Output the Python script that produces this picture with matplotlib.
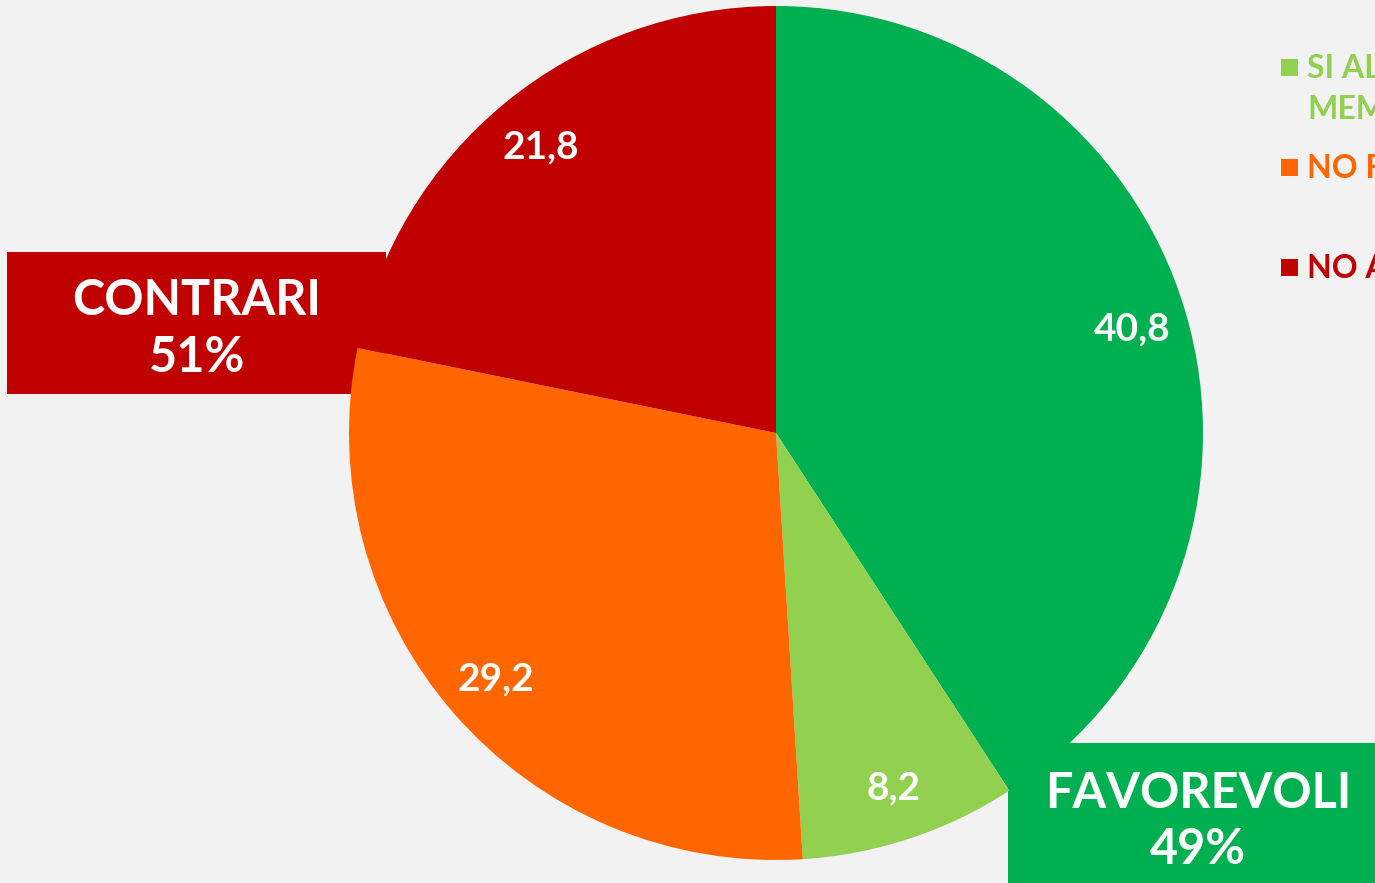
import matplotlib
matplotlib.use("Agg")
import matplotlib.pyplot as plt
from matplotlib.patches import Rectangle
import numpy as np

# ---- data ----
values = [40.8, 8.2, 29.2, 21.8]
value_labels = ["40,8", "8,2", "29,2", "21,8"]
colors = ["#00B050", "#92D050", "#FF6600", "#C00000"]
legend_labels = ["SI ALLA LEGGE\nMEMBRI", "NO FAVOREVOLI", "NO ASSOLUTAMENTE"]
legend_colors = ["#92D050", "#FF6600", "#C00000"]
group_labels = ["CONTRARI\n51%", "FAVOREVOLI\n49%"]
group_colors = ["#C00000", "#00B050"]

W, H = 1375, 883
fig = plt.figure(figsize=(W / 100, H / 100), dpi=100)
fig.patch.set_facecolor("#F2F2F2")
ax = fig.add_axes([0, 0, 1, 1])

FONT = "Lato"

cx, cy, r = 776, 433, 427
# y axis is inverted below, so start at -90 and go counter-clockwise in data space
wedges, _ = ax.pie(values, colors=colors, startangle=-90, counterclock=True,
                   center=(cx, cy), radius=r, frame=True,
                   wedgeprops=dict(linewidth=0))
for wdg in wedges:
    wdg.set_zorder(2)
ax.set_xlim(0, W)
ax.set_ylim(H, 0)
ax.set_aspect("equal")
ax.axis("off")

# group boxes (behind the pie)
boxes = [(7, 252, 379, 142), (1008, 743, 370, 145)]
text_x = [197, 1198]
for (x, y, w, h), tx, lab, col in zip(boxes, text_x, group_labels, group_colors):
    ax.add_patch(Rectangle((x, y), w, h, facecolor=col, edgecolor="none", zorder=1))
    ax.text(tx, y + h / 2 + 6, lab, ha="center", va="center",
            color="white", fontsize=35, fontweight="bold", family=FONT,
            linespacing=1.32, zorder=5)

# value labels
for wdg, lab in zip(wedges, value_labels):
    ang = np.deg2rad((wdg.theta1 + wdg.theta2) / 2)
    d = 0.87 * r
    ax.text(cx + d * np.cos(ang), cy + d * np.sin(ang) + 2, lab, ha="center", va="center",
            color="white", fontsize=28, fontweight="bold", family=FONT, zorder=6)

# legend (cut by the figure edge, as in the original)
ly = [68, 168, 268]
for y, lab, col in zip(ly, legend_labels, legend_colors):
    ax.add_patch(Rectangle((1281, y - 9), 17, 17, facecolor=col, edgecolor="none", zorder=6))
    ax.text(1307, y - 14, lab, ha="left", va="top", color=col, fontsize=23,
            fontweight="bold", family=FONT, linespacing=1.5, zorder=6)

fig.savefig("out.png", dpi=100, facecolor=fig.get_facecolor())
